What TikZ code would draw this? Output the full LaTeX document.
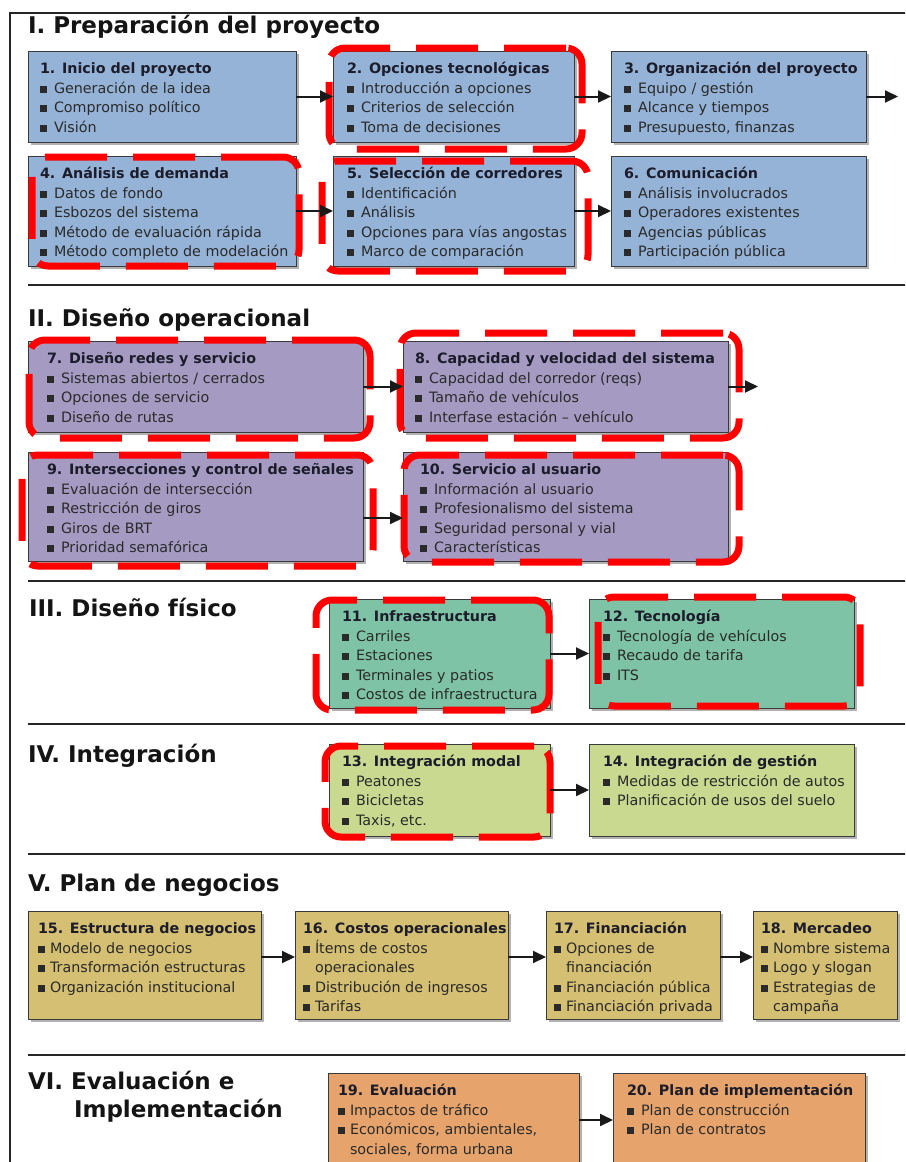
\documentclass[tikz,border=0pt]{standalone}
\usepackage{fontspec}
\setmainfont{DejaVu Sans}
\usetikzlibrary{arrows.meta,shadows}
\definecolor{cI}{HTML}{95B3D7}
\definecolor{cII}{HTML}{A59BC2}
\definecolor{cIII}{HTML}{7EC3A5}
\definecolor{cIV}{HTML}{C9DA90}
\definecolor{cV}{HTML}{D4BF72}
\definecolor{cVI}{HTML}{E6A46C}
\definecolor{boxline}{HTML}{3A3A3A}
\definecolor{headcol}{HTML}{1C1C2A}
\definecolor{itemcol}{HTML}{2A2A2A}
\definecolor{hired}{HTML}{FF0000}
\newcommand\bu{\makebox[14pt][l]{\rule[0.3pt]{7pt}{7pt}}}
\newcommand\bv{\makebox[12pt][l]{\rule[0.3pt]{7pt}{7pt}}}
\newcommand\hd[1]{\rule{0pt}{12pt}{\bfseries\color{headcol}#1}}
\newcommand\bx[8]{%
  \node[box, fill=#6, minimum width=#4pt, minimum height=#5pt] (#1) at (#2,#3) {};
  \node[txt] (#1t) at ({#2+#7},{#3+10.5}) {#8};
}
\newcommand\hl[5]{%
  \node[hilite, minimum width={#4pt-#2pt}, minimum height={#5pt-#3pt}] (#1) at (#2,#3) {};
}
\tikzset{
  box/.style={draw=boxline, line width=1pt, inner sep=0pt, outer sep=0pt, anchor=north west,
    drop shadow={shadow xshift=3pt, shadow yshift=-3pt, opacity=0.3, fill=black}},
  txt/.style={anchor=north west, inner sep=0pt, outer sep=0pt, align=left,
    font=\fontsize{14.3}{19.5}\selectfont, text=itemcol},
  hilite/.style={draw=hired, line width=7pt, dash pattern=on 62pt off 26pt,
    rounded corners=16pt, inner sep=0pt, outer sep=0pt, anchor=north west},
  arr/.style={line width=2pt, draw=black!90, -{Triangle[length=13pt,width=12pt]}},
  sepline/.style={line width=2pt, draw=black!85},
  sect/.style={anchor=base west, inner sep=0pt, outer sep=0pt,
    font=\fontsize{23}{27}\selectfont\bfseries, text=black!92},
}
\begin{document}
\begin{tikzpicture}[x=1pt,y=-1pt]
\useasboundingbox (0,0) rectangle (905,1162);
\clip (0,0) rectangle (905,1162);
\fill[white] (0,0) rectangle (905,1162);
% frame
\draw[sepline] (10,1180) -- (10,13) -- (915,13);
% separators
\draw[sepline] (28,285) -- (915,285);
\draw[sepline] (28,581) -- (915,581);
\draw[sepline] (28,724) -- (915,724);
\draw[sepline] (28,854) -- (915,854);
\draw[sepline] (28,1055) -- (915,1055);
% section titles
\node[sect] (tI) at (28,33) {I. Preparación del proyecto};
\node[sect] (tII) at (28,326) {II. Diseño operacional};
\node[sect] (tIII) at (29,616) {III. Diseño físico};
\node[sect] (tIV) at (28,762) {IV. Integración};
\node[sect] (tV) at (28,891) {V. Plan de negocios};
\node[sect] (tVIa) at (28,1089) {VI. Evaluación e};
\node[sect] (tVIb) at (74,1117) {Implementación};
% Section I
\bx{b1}{28}{51}{268}{91}{cI}{12}{\hd{1. Inicio del proyecto}\\\bu Generación de la idea\\\bu Compromiso político\\\bu Visión}
\bx{b2}{333}{51}{241}{91}{cI}{14}{\hd{2. Opciones tecnológicas}\\\bu Introducción a opciones\\\bu Criterios de selección\\\bu Toma de decisiones}
\bx{b3}{611}{51}{255}{91}{cI}{13}{\hd{3. Organización del proyecto}\\\bu Equipo / gestión\\\bu Alcance y tiempos\\\bu Presupuesto, finanzas}
\bx{b4}{28}{156}{268}{110}{cI}{12}{\hd{4. Análisis de demanda}\\\bu Datos de fondo\\\bu Esbozos del sistema\\\bu Método de evaluación rápida\\\bu Método completo de modelación}
\bx{b5}{333}{156}{241}{110}{cI}{14}{\hd{5. Selección de corredores}\\\bu Identificación\\\bu Análisis\\\bu Opciones para vías angostas\\\bu Marco de comparación}
\bx{b6}{611}{156}{255}{110}{cI}{13}{\hd{6. Comunicación}\\\bu Análisis involucrados\\\bu Operadores existentes\\\bu Agencias públicas\\\bu Participación pública}
% Section II
\bx{b7}{28}{341}{335}{91}{cII}{19}{\hd{7. Diseño redes y servicio}\\\bu Sistemas abiertos / cerrados\\\bu Opciones de servicio\\\bu Diseño de rutas}
\bx{b8}{403}{341}{325}{91}{cII}{12}{\hd{8. Capacidad y velocidad del sistema}\\\bu Capacidad del corredor (reqs)\\\bu Tamaño de vehículos\\\bu Interfase estación -- vehículo}
\bx{b9}{28}{452}{335}{109}{cII}{19}{\hd{9. Intersecciones y control de señales}\\\bu Evaluación de intersección\\\bu Restricción de giros\\\bu Giros de BRT\\\bu Prioridad semafórica}
\bx{b10}{403}{452}{325}{109}{cII}{17}{\hd{10. Servicio al usuario}\\\bu Información al usuario\\\bu Profesionalismo del sistema\\\bu Seguridad personal y vial\\\bu Características}
% Section III
\bx{b11}{329}{599}{221}{109}{cIII}{13}{\hd{11. Infraestructura}\\\bu Carriles\\\bu Estaciones\\\bu Terminales y patios\\\bu Costos de infraestructura}
\bx{b12}{589}{599}{265}{109}{cIII}{14}{\hd{12. Tecnología}\\\bu Tecnología de vehículos\\\bu Recaudo de tarifa\\\bu ITS}
% Section IV
\bx{b13}{329}{744}{221}{92}{cIV}{13}{\hd{13. Integración modal}\\\bu Peatones\\\bu Bicicletas\\\bu Taxis, etc.}
\bx{b14}{589}{744}{265}{92}{cIV}{14}{\hd{14. Integración de gestión}\\\bu Medidas de restricción de autos\\\bu Planificación de usos del suelo}
% Section V
\bx{b15}{28}{911}{233}{108}{cV}{10}{\hd{15. Estructura de negocios}\\\bv Modelo de negocios\\\bv Transformación estructuras\\\bv Organización institucional}
\bx{b16}{295}{911}{213}{108}{cV}{8}{\hd{16. Costos operacionales}\\\bv Ítems de costos\\\hspace*{12pt}operacionales\\\bv Distribución de ingresos\\\bv Tarifas}
\bx{b17}{546}{911}{174}{108}{cV}{8}{\hd{17. Financiación}\\\bv Opciones de\\\hspace*{12pt}financiación\\\bv Financiación pública\\\bv Financiación privada}
\bx{b18}{753}{911}{144}{108}{cV}{8}{\hd{18. Mercadeo}\\\bv Nombre sistema\\\bv Logo y slogan\\\bv Estrategias de\\\hspace*{12pt}campaña}
% Section VI
\bx{b19}{328}{1073}{251}{110}{cVI}{10}{\hd{19. Evaluación}\\\bv Impactos de tráfico\\\bv Económicos, ambientales,\\\hspace*{12pt}sociales, forma urbana}
\bx{b20}{613}{1073}{252}{110}{cVI}{14}{\hd{20. Plan de implementación}\\\bu Plan de construcción\\\bu Plan de contratos}
% red dashed highlights
\hl{r2}{329}{48}{582}{149}
\hl{r4}{32}{157}{299}{266}
\hl{r5}{322}{161}{588}{271}
\hl{r7}{29}{340}{370}{438}
\hl{r8}{400}{333}{739}{438}
\hl{r9}{22}{455}{373}{566}
\hl{r10}{404}{455}{739}{562}
\hl{r11}{316}{600}{549}{710}
\hl{r12}{598}{597}{860}{706}
\hl{r13}{325}{746}{550}{837}
% connectors
\coordinate (e3) at (898,96.5);
\coordinate (e8) at (758,386.5);
\draw[arr] (b1.east) -- (b2.west);
\draw[arr] (b2.east) -- (b3.west);
\draw[arr] (b3.east) -- (e3);
\draw[arr] (b4.east) -- (b5.west);
\draw[arr] (b5.east) -- (b6.west);
\draw[arr] (b7.east) -- (b8.west);
\draw[arr] (b8.east) -- (e8);
\draw[arr] ([yshift=-11.5pt]b9.east) -- ([yshift=-11.5pt]b10.west);
\draw[arr] (b11.east) -- (b12.west);
\draw[arr] (b13.east) -- (b14.west);
\draw[arr] ([yshift=8pt]b15.east) -- ([yshift=8pt]b16.west);
\draw[arr] ([yshift=8pt]b16.east) -- ([yshift=8pt]b17.west);
\draw[arr] ([yshift=8pt]b17.east) -- ([yshift=8pt]b18.west);
\draw[arr] ([yshift=8pt]b19.east) -- ([yshift=8pt]b20.west);
\end{tikzpicture}
\end{document}
